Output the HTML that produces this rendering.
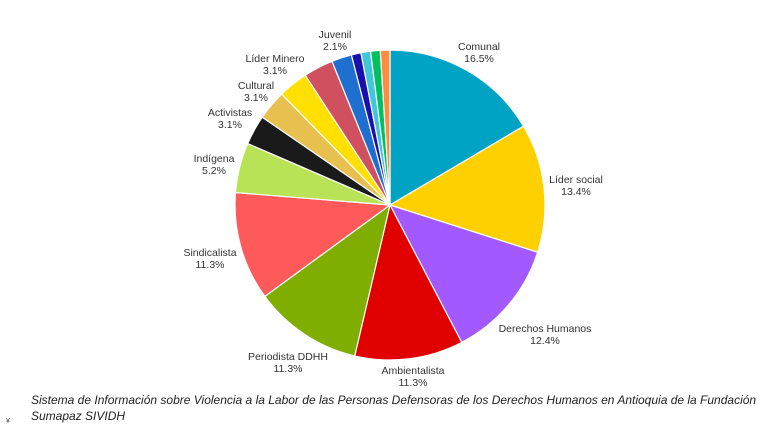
<!DOCTYPE html>
<html><head><meta charset="utf-8"><style>
body{margin:0;background:#fff;width:780px;height:428px;overflow:hidden;font-family:"Liberation Sans",sans-serif}
svg text{font-family:"Liberation Sans",sans-serif;font-size:10.5px;fill:#333}
.cap{position:absolute;left:31px;top:392px;width:745px;font-style:italic;font-size:12px;line-height:16px;color:#222}
</style></head><body>
<svg width="780" height="428" style="position:absolute;left:0;top:0">
<g id="slices"></g><g id="labels"></g>
</svg>
<div class="cap">Sistema de Información sobre Violencia a la Labor de las Personas Defensoras de los Derechos Humanos en Antioquia de la Fundación Sumapaz SIVIDH</div>
<div style="position:absolute;left:6px;top:418px;font-size:7px;color:#555">¥</div>
<script>
const categories=["Comunal","Líder social","Derechos Humanos","Ambientalista","Periodista DDHH","Sindicalista","Indígena","Activistas","Cultural","Líder Minero","Otro","Juvenil","Otro 2","Otro 3","Otro 4","Otro 5"];
const values=[16.5,13.4,12.4,11.3,11.3,11.3,5.2,3.1,3.1,3.1,3.1,2.1,1.0,1.0,1.0,1.0];
const colors=["#00a3c4","#ffd000","#a259ff","#e00000","#7fae00","#ff5a5a","#b8e356","#1a1a1a","#e8c050","#ffe000","#d05060","#1e6fcf","#1a10b0","#40c8d8","#00c060","#ff8c40"];
const labelPos=[[479,50],[576,183],[545,332],[413,374],[288,360],[210,256],[214,162],[230,116],[256,89],[275,62],null,[335,38],null,null,null,null];
const cx=390,cy=205,r=155;
const total=values.reduce((a,b)=>a+b,0);
const ns="http://www.w3.org/2000/svg";
const sg=document.getElementById("slices"),lg=document.getElementById("labels");
function ang(v){return v/total*2*Math.PI;}
function pt(a){return [cx+r*Math.sin(a),cy-r*Math.cos(a)];}
let a0=0;
values.forEach((v,i)=>{
 const a1=a0+ang(v);const p0=pt(a0),p1=pt(a1);
 const p=document.createElementNS(ns,"path");
 p.setAttribute("d",`M${cx},${cy}L${p0[0]},${p0[1]}A${r},${r} 0 ${a1-a0>Math.PI?1:0} 1 ${p1[0]},${p1[1]}Z`);
 p.setAttribute("fill",colors[i]);p.setAttribute("stroke","#fff");p.setAttribute("stroke-width","1.2");
 
 
 sg.appendChild(p);
 if(labelPos[i]){
  const t=document.createElementNS(ns,"text");
  t.setAttribute("x",labelPos[i][0]);t.setAttribute("y",labelPos[i][1]);t.setAttribute("text-anchor","middle");
  const s1=document.createElementNS(ns,"tspan");s1.setAttribute("x",labelPos[i][0]);s1.textContent=categories[i];
  const s2=document.createElementNS(ns,"tspan");s2.setAttribute("x",labelPos[i][0]);s2.setAttribute("dy","12");s2.textContent=v.toFixed(1)+"%";
  t.appendChild(s1);t.appendChild(s2);
  
  
  lg.appendChild(t);
 }
 a0=a1;
});
</script>
</body></html>
